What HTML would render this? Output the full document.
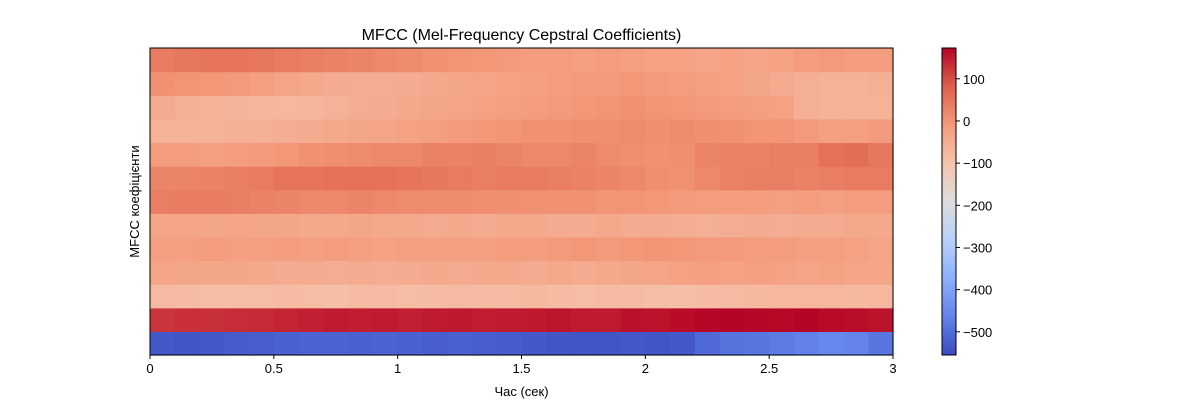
<!DOCTYPE html>
<html><head><meta charset="utf-8">
<style>
body{margin:0;background:#fff;}
svg{display:block;font-family:"Liberation Sans","DejaVu Sans",sans-serif;}
</style></head>
<body>
<svg id="chart" width="1200" height="400" xmlns="http://www.w3.org/2000/svg"></svg>
<script>
// Data: MFCC rows, coefficient 0 (bottom) to 12 (top); 30 frames at 0.1 s
const times = [0,0.1,0.2,0.3,0.4,0.5,0.6,0.7,0.8,0.9,1.0,1.1,1.2,1.3,1.4,1.5,1.6,1.7,1.8,1.9,2.0,2.1,2.2,2.3,2.4,2.5,2.6,2.7,2.8,2.9];
const c0  = [-535,-540,-535,-530,-525,-520,-515,-515,-520,-515,-520,-525,-520,-525,-530,-535,-540,-540,-540,-535,-540,-535,-505,-490,-485,-475,-465,-455,-460,-485];
const c1  = [125,130,128,132,135,140,145,150,148,150,145,150,152,148,150,152,155,150,150,160,158,165,170,172,170,168,172,166,163,158];
const c2  = [-78,-82,-84,-87,-84,-82,-84,-87,-82,-80,-84,-82,-80,-82,-80,-77,-82,-84,-80,-82,-87,-87,-82,-80,-77,-74,-72,-74,-77,-74];
const c3  = [-30,-35,-35,-35,-40,-45,-45,-50,-45,-50,-45,-40,-45,-40,-40,-45,-40,-45,-40,-35,-30,-25,-20,-25,-20,-25,-30,-25,-30,-35];
const c4  = [-20,-20,-15,-20,-20,-15,-20,-15,-20,-25,-20,-20,-20,-20,-15,-15,-10,-5,-10,-5,0,-5,-10,-10,-15,-15,-20,-20,-25,-30];
const c5  = [-30,-30,-35,-30,-35,-35,-40,-40,-35,-40,-40,-45,-40,-45,-40,-40,-45,-45,-40,-45,-45,-50,-55,-50,-45,-50,-45,-45,-40,-40];
const c6  = [35,40,40,35,30,25,20,20,25,20,15,15,15,10,10,5,5,5,0,0,-5,-10,-15,-15,-15,-20,-15,-20,-15,-15];
const c7  = [25,25,30,35,40,50,50,55,55,55,50,45,40,35,40,40,35,30,25,20,10,5,20,30,35,35,30,35,40,40];
const c8  = [-15,-15,-20,-15,-10,-5,5,10,15,20,20,30,30,35,25,20,20,25,15,10,5,10,25,30,30,35,35,55,60,45];
const c9  = [-60,-60,-60,-55,-55,-50,-45,-40,-35,-30,-25,-20,-10,-5,0,5,5,10,10,15,10,15,10,5,0,0,-10,-20,-20,-10];
const c10 = [-45,-55,-60,-65,-70,-75,-70,-60,-50,-45,-40,-35,-30,-25,-20,-15,-10,-5,0,5,0,-5,-10,-15,-20,-25,-55,-60,-60,-60];
const c11 = [5,0,-5,-10,-20,-30,-40,-45,-50,-50,-45,-40,-35,-30,-25,-20,-15,-10,-10,-5,-10,-15,-20,-25,-35,-45,-55,-60,-60,-55];
const c12 = [40,45,50,50,45,40,35,30,25,20,15,5,0,-5,-10,-15,-15,-20,-15,-20,-25,-25,-30,-25,-30,-25,-15,-10,-15,-15];
const rows = [c0,c1,c2,c3,c4,c5,c6,c7,c8,c9,c10,c11,c12];
const xTicks = [0,0.5,1,1.5,2,2.5,3];
const xTickLabels = ["0","0.5","1","1.5","2","2.5","3"];
const cbTicks = [100,0,-100,-200,-300,-400,-500];
const vMin = -555, vMax = 173;

const NS = "http://www.w3.org/2000/svg";
const svg = document.getElementById("chart");
const L = 150, R = 893, T = 48, B = 355;
const xS = t => L + (t / 3) * (R - L);
const yRow = i => B - (i + 1) * (B - T) / rows.length;
const rowH = (B - T) / rows.length;
const cbX = 942, cbW = 14;
const cbY = v => B - (v - vMin) / (vMax - vMin) * (B - T);

const stops = [[0,[59,76,192]],[0.125,[98,130,234]],[0.25,[141,176,254]],[0.375,[184,208,249]],[0.5,[221,221,221]],[0.625,[245,196,173]],[0.75,[244,154,123]],[0.875,[222,96,77]],[1,[180,4,38]]];
function cmap(v){
  let t = Math.max(0, Math.min(1, (v - vMin) / (vMax - vMin)));
  for (let k = 0; k < stops.length - 1; k++) {
    const [a, ca] = stops[k], [b, cb] = stops[k+1];
    if (t <= b) { const f = (t - a) / (b - a);
      return `rgb(${Math.round(ca[0]+f*(cb[0]-ca[0]))},${Math.round(ca[1]+f*(cb[1]-ca[1]))},${Math.round(ca[2]+f*(cb[2]-ca[2]))})`; }
  }
  return "rgb(180,4,38)";
}
function el(tag, attrs, text){
  const e = document.createElementNS(NS, tag);
  for (const k in attrs) e.setAttribute(k, attrs[k]);
  if (text !== undefined) e.textContent = text;
  svg.appendChild(e);
  return e;
}
const dt = 0.1;
rows.forEach((row, i) => {
  row.forEach((v, j) => {
    const x0 = xS(times[j]), x1 = xS(times[j] + dt);
    const r = el("rect", {x: x0, y: yRow(i), width: x1 - x0 + 0.6, height: rowH + 0.6, fill: cmap(v)});
    
    
  });
});
const frame = el("rect", {x: L, y: T, width: R - L, height: B - T, fill: "none", stroke: "#000", "stroke-width": 1});


xTicks.forEach((t, k) => {
  const tk = el("line", {x1: xS(t), x2: xS(t), y1: B, y2: B + 4, stroke: "#000"});
  
  
  const lb = el("text", {x: xS(t), y: B + 18, "text-anchor": "middle", "font-size": 13}, xTickLabels[k]);
  
  
});
const xt = el("text", {x: (L + R) / 2, y: 396, "text-anchor": "middle", "font-size": 13}, "Час (сек)");


const yt = el("text", {x: 0, y: 0, transform: `translate(139,${(T + B) / 2}) rotate(-90)`, "text-anchor": "middle", "font-size": 13}, "MFCC коефіцієнти");


const ti = el("text", {x: (L + R) / 2, y: 40, "text-anchor": "middle", "font-size": 16}, "MFCC (Mel-Frequency Cepstral Coefficients)");


// colorbar
for (let p = 0; p < (B - T); p++) {
  const v = vMax - (p + 0.5) / (B - T) * (vMax - vMin);
  const s = el("rect", {x: cbX, y: T + p, width: cbW, height: 1.2, fill: cmap(v)});
  
  
}
const cbf = el("rect", {x: cbX, y: T, width: cbW, height: B - T, fill: "none", stroke: "#000"});


cbTicks.forEach(v => {
  const tk = el("line", {x1: cbX + cbW, x2: cbX + cbW + 4, y1: cbY(v), y2: cbY(v), stroke: "#000"});
  
  
  const lb = el("text", {x: cbX + cbW + 7, y: cbY(v) + 5, "font-size": 13}, v < 0 ? "\u2212" + Math.abs(v) : String(v));
  
  
});
</script>
</body></html>
